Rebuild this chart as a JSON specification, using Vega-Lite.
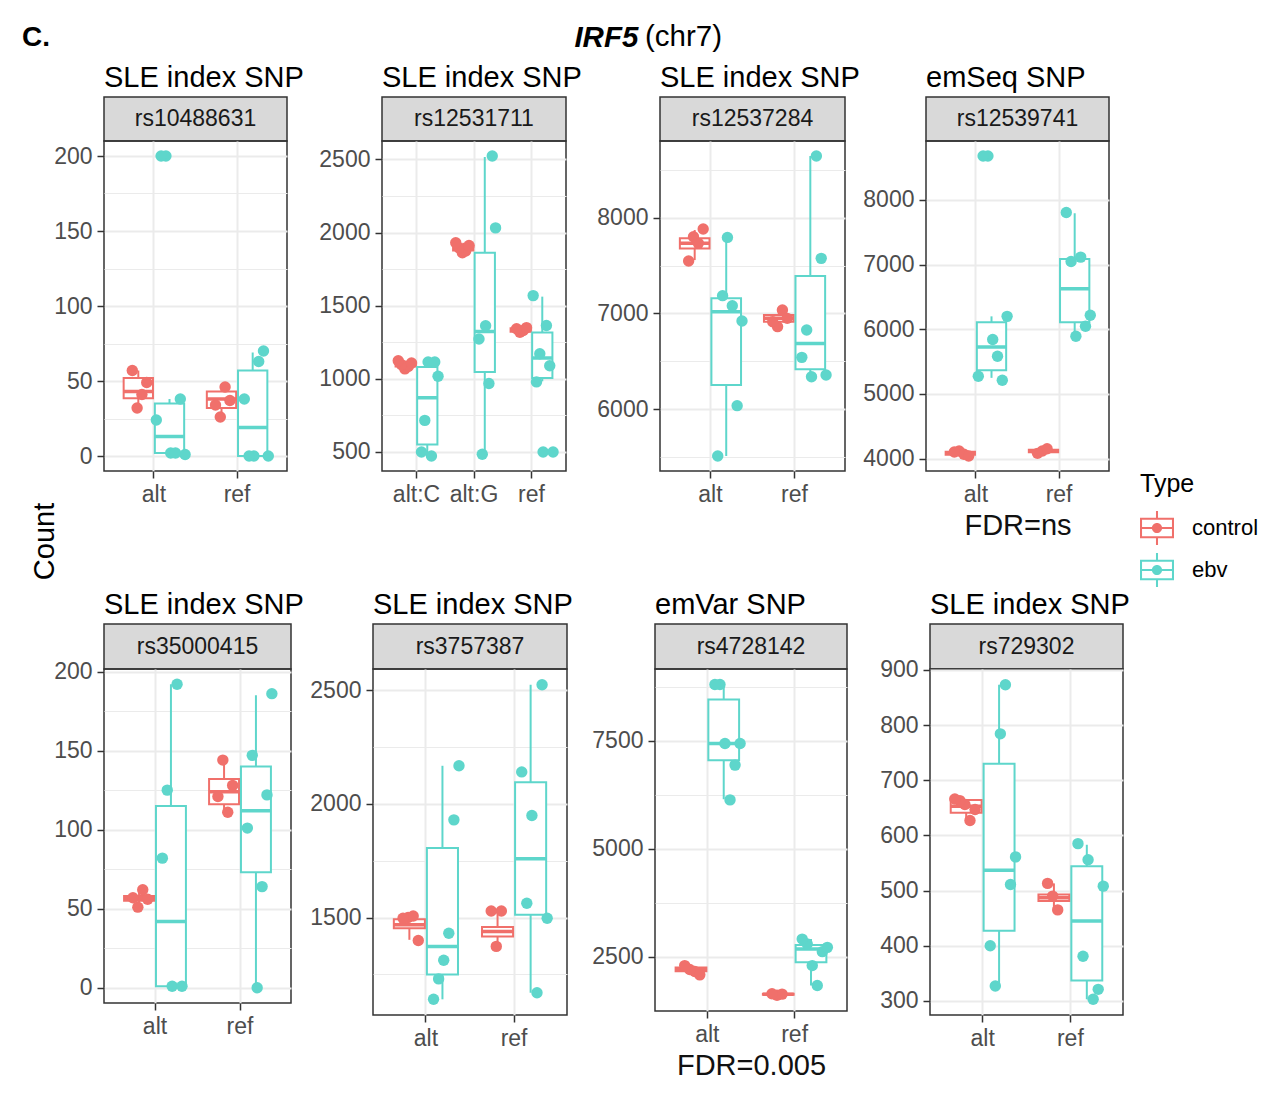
{
"$schema": "https://vega.github.io/schema/vega-lite/v6.json",
"padding": {"left": 22, "top": 22, "right": 5, "bottom": 5},
"background": "white",
"datasets": {
"panels": [{"snp":"rs10488631"},{"snp":"rs12531711"},{"snp":"rs12537284"},{"snp":"rs12539741"},{"snp":"rs35000415"},{"snp":"rs3757387"},{"snp":"rs4728142"},{"snp":"rs729302"}],
"box": [
{"snp":"rs10488631","allele":"alt","Type":"control","lo":33,"q1":38.5,"med":43,"q3":52,"hi":57},
{"snp":"rs10488631","allele":"alt","Type":"ebv","lo":1,"q1":2,"med":13,"q3":35,"hi":38},
{"snp":"rs10488631","allele":"ref","Type":"control","lo":26,"q1":32,"med":38,"q3":43,"hi":47},
{"snp":"rs10488631","allele":"ref","Type":"ebv","lo":0,"q1":0,"med":19,"q3":57,"hi":69},
{"snp":"rs12531711","allele":"alt:C","Type":"control","lo":1068,"q1":1085,"med":1100,"q3":1112,"hi":1124},
{"snp":"rs12531711","allele":"alt:C","Type":"ebv","lo":473,"q1":552,"med":870,"q3":1081,"hi":1110},
{"snp":"rs12531711","allele":"alt:G","Type":"control","lo":1862,"q1":1878,"med":1895,"q3":1912,"hi":1930},
{"snp":"rs12531711","allele":"alt:G","Type":"ebv","lo":484,"q1":1047,"med":1324,"q3":1862,"hi":2516},
{"snp":"rs12531711","allele":"ref","Type":"control","lo":1310,"q1":1322,"med":1336,"q3":1346,"hi":1352},
{"snp":"rs12531711","allele":"ref","Type":"ebv","lo":983,"q1":1006,"med":1142,"q3":1317,"hi":1562},
{"snp":"rs12537284","allele":"alt","Type":"control","lo":7557,"q1":7679,"med":7732,"q3":7784,"hi":7871},
{"snp":"rs12537284","allele":"alt","Type":"ebv","lo":5509,"q1":6251,"med":7017,"q3":7157,"hi":7794},
{"snp":"rs12537284","allele":"ref","Type":"control","lo":6861,"q1":6913,"med":6948,"q3":6983,"hi":7035},
{"snp":"rs12537284","allele":"ref","Type":"ebv","lo":6338,"q1":6415,"med":6686,"q3":7390,"hi":8645},
{"snp":"rs12539741","allele":"alt","Type":"control","lo":4041,"q1":4060,"med":4085,"q3":4105,"hi":4118},
{"snp":"rs12539741","allele":"alt","Type":"ebv","lo":5249,"q1":5368,"med":5728,"q3":6108,"hi":6200},
{"snp":"rs12539741","allele":"ref","Type":"control","lo":4082,"q1":4100,"med":4118,"q3":4136,"hi":4154},
{"snp":"rs12539741","allele":"ref","Type":"ebv","lo":5892,"q1":6108,"med":6627,"q3":7085,"hi":7794},
{"snp":"rs35000415","allele":"alt","Type":"control","lo":51,"q1":55,"med":56.5,"q3":58,"hi":62},
{"snp":"rs35000415","allele":"alt","Type":"ebv","lo":1,"q1":1,"med":42,"q3":115,"hi":192},
{"snp":"rs35000415","allele":"ref","Type":"control","lo":110,"q1":116,"med":124,"q3":132,"hi":144},
{"snp":"rs35000415","allele":"ref","Type":"ebv","lo":0,"q1":73,"med":112,"q3":140,"hi":185},
{"snp":"rs3757387","allele":"alt","Type":"control","lo":1402,"q1":1453,"med":1468,"q3":1493,"hi":1507},
{"snp":"rs3757387","allele":"alt","Type":"ebv","lo":1140,"q1":1249,"med":1373,"q3":1806,"hi":2168},
{"snp":"rs3757387","allele":"ref","Type":"control","lo":1380,"q1":1417,"med":1439,"q3":1458,"hi":1529},
{"snp":"rs3757387","allele":"ref","Type":"ebv","lo":1169,"q1":1512,"med":1759,"q3":2095,"hi":2525},
{"snp":"rs4728142","allele":"alt","Type":"control","lo":2086,"q1":2170,"med":2215,"q3":2255,"hi":2301},
{"snp":"rs4728142","allele":"alt","Type":"ebv","lo":6150,"q1":7055,"med":7439,"q3":8459,"hi":8804},
{"snp":"rs4728142","allele":"ref","Type":"control","lo":1610,"q1":1625,"med":1640,"q3":1648,"hi":1655},
{"snp":"rs4728142","allele":"ref","Type":"ebv","lo":1840,"q1":2377,"med":2684,"q3":2776,"hi":2914},
{"snp":"rs729302","allele":"alt","Type":"control","lo":627,"q1":641,"med":653,"q3":664,"hi":666},
{"snp":"rs729302","allele":"alt","Type":"ebv","lo":327,"q1":427,"med":537,"q3":730,"hi":873},
{"snp":"rs729302","allele":"ref","Type":"control","lo":465,"q1":481,"med":487,"q3":493,"hi":513},
{"snp":"rs729302","allele":"ref","Type":"ebv","lo":303,"q1":337,"med":445,"q3":544,"hi":583}
],
"pts": [
{"snp":"rs10488631","allele":"alt","Type":"control","rep":"c1","Count":32},
{"snp":"rs10488631","allele":"alt","Type":"control","rep":"c2","Count":41},
{"snp":"rs10488631","allele":"alt","Type":"control","rep":"c3","Count":57},
{"snp":"rs10488631","allele":"alt","Type":"control","rep":"c4","Count":49},
{"snp":"rs10488631","allele":"alt","Type":"ebv","rep":"e1","Count":2},
{"snp":"rs10488631","allele":"alt","Type":"ebv","rep":"e2","Count":2},
{"snp":"rs10488631","allele":"alt","Type":"ebv","rep":"e3","Count":200},
{"snp":"rs10488631","allele":"alt","Type":"ebv","rep":"e4","Count":38},
{"snp":"rs10488631","allele":"alt","Type":"ebv","rep":"e5","Count":200},
{"snp":"rs10488631","allele":"alt","Type":"ebv","rep":"e6","Count":1},
{"snp":"rs10488631","allele":"alt","Type":"ebv","rep":"e7","Count":24},
{"snp":"rs10488631","allele":"ref","Type":"control","rep":"c1","Count":26},
{"snp":"rs10488631","allele":"ref","Type":"control","rep":"c2","Count":46},
{"snp":"rs10488631","allele":"ref","Type":"control","rep":"c3","Count":34},
{"snp":"rs10488631","allele":"ref","Type":"control","rep":"c4","Count":37},
{"snp":"rs10488631","allele":"ref","Type":"ebv","rep":"e1","Count":0},
{"snp":"rs10488631","allele":"ref","Type":"ebv","rep":"e2","Count":63},
{"snp":"rs10488631","allele":"ref","Type":"ebv","rep":"e3","Count":0},
{"snp":"rs10488631","allele":"ref","Type":"ebv","rep":"e4","Count":70},
{"snp":"rs10488631","allele":"ref","Type":"ebv","rep":"e5","Count":38},
{"snp":"rs10488631","allele":"ref","Type":"ebv","rep":"e6","Count":0},
{"snp":"rs12531711","allele":"alt:C","Type":"control","rep":"c1","Count":1068},
{"snp":"rs12531711","allele":"alt:C","Type":"control","rep":"c2","Count":1085},
{"snp":"rs12531711","allele":"alt:C","Type":"control","rep":"c3","Count":1097},
{"snp":"rs12531711","allele":"alt:C","Type":"control","rep":"c4","Count":1108},
{"snp":"rs12531711","allele":"alt:C","Type":"control","rep":"c5","Count":1124},
{"snp":"rs12531711","allele":"alt:C","Type":"ebv","rep":"e1","Count":1115},
{"snp":"rs12531711","allele":"alt:C","Type":"ebv","rep":"e2","Count":473},
{"snp":"rs12531711","allele":"alt:C","Type":"ebv","rep":"e3","Count":716},
{"snp":"rs12531711","allele":"alt:C","Type":"ebv","rep":"e4","Count":1115},
{"snp":"rs12531711","allele":"alt:C","Type":"ebv","rep":"e5","Count":500},
{"snp":"rs12531711","allele":"alt:C","Type":"ebv","rep":"e6","Count":1018},
{"snp":"rs12531711","allele":"alt:G","Type":"control","rep":"c1","Count":1862},
{"snp":"rs12531711","allele":"alt:G","Type":"control","rep":"c2","Count":1875},
{"snp":"rs12531711","allele":"alt:G","Type":"control","rep":"c3","Count":1895},
{"snp":"rs12531711","allele":"alt:G","Type":"control","rep":"c4","Count":1912},
{"snp":"rs12531711","allele":"alt:G","Type":"control","rep":"c5","Count":1930},
{"snp":"rs12531711","allele":"alt:G","Type":"ebv","rep":"e1","Count":1363},
{"snp":"rs12531711","allele":"alt:G","Type":"ebv","rep":"e2","Count":968},
{"snp":"rs12531711","allele":"alt:G","Type":"ebv","rep":"e3","Count":484},
{"snp":"rs12531711","allele":"alt:G","Type":"ebv","rep":"e4","Count":2523},
{"snp":"rs12531711","allele":"alt:G","Type":"ebv","rep":"e5","Count":1272},
{"snp":"rs12531711","allele":"alt:G","Type":"ebv","rep":"e6","Count":2032},
{"snp":"rs12531711","allele":"ref","Type":"control","rep":"c1","Count":1318},
{"snp":"rs12531711","allele":"ref","Type":"control","rep":"c2","Count":1330},
{"snp":"rs12531711","allele":"ref","Type":"control","rep":"c3","Count":1342},
{"snp":"rs12531711","allele":"ref","Type":"control","rep":"c4","Count":1350},
{"snp":"rs12531711","allele":"ref","Type":"ebv","rep":"e1","Count":500},
{"snp":"rs12531711","allele":"ref","Type":"ebv","rep":"e2","Count":1365},
{"snp":"rs12531711","allele":"ref","Type":"ebv","rep":"e3","Count":1172},
{"snp":"rs12531711","allele":"ref","Type":"ebv","rep":"e4","Count":1090},
{"snp":"rs12531711","allele":"ref","Type":"ebv","rep":"e5","Count":979},
{"snp":"rs12531711","allele":"ref","Type":"ebv","rep":"e6","Count":500},
{"snp":"rs12531711","allele":"ref","Type":"ebv","rep":"e7","Count":1569},
{"snp":"rs12537284","allele":"alt","Type":"control","rep":"c1","Count":7801},
{"snp":"rs12537284","allele":"alt","Type":"control","rep":"c2","Count":7732},
{"snp":"rs12537284","allele":"alt","Type":"control","rep":"c3","Count":7547},
{"snp":"rs12537284","allele":"alt","Type":"control","rep":"c4","Count":7882},
{"snp":"rs12537284","allele":"alt","Type":"ebv","rep":"e1","Count":7794},
{"snp":"rs12537284","allele":"alt","Type":"ebv","rep":"e2","Count":7080},
{"snp":"rs12537284","allele":"alt","Type":"ebv","rep":"e3","Count":7185},
{"snp":"rs12537284","allele":"alt","Type":"ebv","rep":"e4","Count":6035},
{"snp":"rs12537284","allele":"alt","Type":"ebv","rep":"e5","Count":5509},
{"snp":"rs12537284","allele":"alt","Type":"ebv","rep":"e6","Count":6920},
{"snp":"rs12537284","allele":"ref","Type":"control","rep":"c1","Count":6861},
{"snp":"rs12537284","allele":"ref","Type":"control","rep":"c2","Count":7035},
{"snp":"rs12537284","allele":"ref","Type":"control","rep":"c3","Count":6913},
{"snp":"rs12537284","allele":"ref","Type":"control","rep":"c4","Count":6948},
{"snp":"rs12537284","allele":"ref","Type":"ebv","rep":"e1","Count":6338},
{"snp":"rs12537284","allele":"ref","Type":"ebv","rep":"e2","Count":8645},
{"snp":"rs12537284","allele":"ref","Type":"ebv","rep":"e3","Count":6826},
{"snp":"rs12537284","allele":"ref","Type":"ebv","rep":"e4","Count":7575},
{"snp":"rs12537284","allele":"ref","Type":"ebv","rep":"e5","Count":6540},
{"snp":"rs12537284","allele":"ref","Type":"ebv","rep":"e6","Count":6355},
{"snp":"rs12539741","allele":"alt","Type":"control","rep":"c1","Count":4118},
{"snp":"rs12539741","allele":"alt","Type":"control","rep":"c2","Count":4067},
{"snp":"rs12539741","allele":"alt","Type":"control","rep":"c3","Count":4103},
{"snp":"rs12539741","allele":"alt","Type":"control","rep":"c4","Count":4041},
{"snp":"rs12539741","allele":"alt","Type":"ebv","rep":"e1","Count":5841},
{"snp":"rs12539741","allele":"alt","Type":"ebv","rep":"e2","Count":5584},
{"snp":"rs12539741","allele":"alt","Type":"ebv","rep":"e3","Count":8679},
{"snp":"rs12539741","allele":"alt","Type":"ebv","rep":"e4","Count":5213},
{"snp":"rs12539741","allele":"alt","Type":"ebv","rep":"e5","Count":8679},
{"snp":"rs12539741","allele":"alt","Type":"ebv","rep":"e6","Count":6200},
{"snp":"rs12539741","allele":"alt","Type":"ebv","rep":"e7","Count":5275},
{"snp":"rs12539741","allele":"ref","Type":"control","rep":"c1","Count":4118},
{"snp":"rs12539741","allele":"ref","Type":"control","rep":"c2","Count":4154},
{"snp":"rs12539741","allele":"ref","Type":"control","rep":"c3","Count":4082},
{"snp":"rs12539741","allele":"ref","Type":"ebv","rep":"e1","Count":5892},
{"snp":"rs12539741","allele":"ref","Type":"ebv","rep":"e2","Count":7116},
{"snp":"rs12539741","allele":"ref","Type":"ebv","rep":"e3","Count":7049},
{"snp":"rs12539741","allele":"ref","Type":"ebv","rep":"e4","Count":6046},
{"snp":"rs12539741","allele":"ref","Type":"ebv","rep":"e5","Count":7805},
{"snp":"rs12539741","allele":"ref","Type":"ebv","rep":"e6","Count":6216},
{"snp":"rs35000415","allele":"alt","Type":"control","rep":"c1","Count":51},
{"snp":"rs35000415","allele":"alt","Type":"control","rep":"c2","Count":62},
{"snp":"rs35000415","allele":"alt","Type":"control","rep":"c3","Count":57},
{"snp":"rs35000415","allele":"alt","Type":"control","rep":"c4","Count":56},
{"snp":"rs35000415","allele":"alt","Type":"ebv","rep":"e1","Count":1},
{"snp":"rs35000415","allele":"alt","Type":"ebv","rep":"e2","Count":192},
{"snp":"rs35000415","allele":"alt","Type":"ebv","rep":"e3","Count":125},
{"snp":"rs35000415","allele":"alt","Type":"ebv","rep":"e4","Count":1},
{"snp":"rs35000415","allele":"alt","Type":"ebv","rep":"e5","Count":82},
{"snp":"rs35000415","allele":"ref","Type":"control","rep":"c1","Count":144},
{"snp":"rs35000415","allele":"ref","Type":"control","rep":"c2","Count":111},
{"snp":"rs35000415","allele":"ref","Type":"control","rep":"c3","Count":121},
{"snp":"rs35000415","allele":"ref","Type":"control","rep":"c4","Count":128},
{"snp":"rs35000415","allele":"ref","Type":"ebv","rep":"e1","Count":0},
{"snp":"rs35000415","allele":"ref","Type":"ebv","rep":"e2","Count":64},
{"snp":"rs35000415","allele":"ref","Type":"ebv","rep":"e3","Count":147},
{"snp":"rs35000415","allele":"ref","Type":"ebv","rep":"e4","Count":122},
{"snp":"rs35000415","allele":"ref","Type":"ebv","rep":"e5","Count":101},
{"snp":"rs35000415","allele":"ref","Type":"ebv","rep":"e6","Count":186},
{"snp":"rs3757387","allele":"alt","Type":"control","rep":"c1","Count":1500},
{"snp":"rs3757387","allele":"alt","Type":"control","rep":"c2","Count":1507},
{"snp":"rs3757387","allele":"alt","Type":"control","rep":"c3","Count":1497},
{"snp":"rs3757387","allele":"alt","Type":"control","rep":"c4","Count":1399},
{"snp":"rs3757387","allele":"alt","Type":"ebv","rep":"e1","Count":1312},
{"snp":"rs3757387","allele":"alt","Type":"ebv","rep":"e2","Count":1431},
{"snp":"rs3757387","allele":"alt","Type":"ebv","rep":"e3","Count":1230},
{"snp":"rs3757387","allele":"alt","Type":"ebv","rep":"e4","Count":1930},
{"snp":"rs3757387","allele":"alt","Type":"ebv","rep":"e5","Count":1140},
{"snp":"rs3757387","allele":"alt","Type":"ebv","rep":"e6","Count":2168},
{"snp":"rs3757387","allele":"ref","Type":"control","rep":"c1","Count":1373},
{"snp":"rs3757387","allele":"ref","Type":"control","rep":"c2","Count":1529},
{"snp":"rs3757387","allele":"ref","Type":"control","rep":"c3","Count":1529},
{"snp":"rs3757387","allele":"ref","Type":"ebv","rep":"e1","Count":1949},
{"snp":"rs3757387","allele":"ref","Type":"ebv","rep":"e2","Count":1169},
{"snp":"rs3757387","allele":"ref","Type":"ebv","rep":"e3","Count":1563},
{"snp":"rs3757387","allele":"ref","Type":"ebv","rep":"e4","Count":2525},
{"snp":"rs3757387","allele":"ref","Type":"ebv","rep":"e5","Count":2141},
{"snp":"rs3757387","allele":"ref","Type":"ebv","rep":"e6","Count":1497},
{"snp":"rs4728142","allele":"alt","Type":"control","rep":"c1","Count":2209},
{"snp":"rs4728142","allele":"alt","Type":"control","rep":"c2","Count":2163},
{"snp":"rs4728142","allele":"alt","Type":"control","rep":"c3","Count":2301},
{"snp":"rs4728142","allele":"alt","Type":"control","rep":"c4","Count":2086},
{"snp":"rs4728142","allele":"alt","Type":"ebv","rep":"e1","Count":7439},
{"snp":"rs4728142","allele":"alt","Type":"ebv","rep":"e2","Count":6135},
{"snp":"rs4728142","allele":"alt","Type":"ebv","rep":"e3","Count":8804},
{"snp":"rs4728142","allele":"alt","Type":"ebv","rep":"e4","Count":6940},
{"snp":"rs4728142","allele":"alt","Type":"ebv","rep":"e5","Count":8804},
{"snp":"rs4728142","allele":"alt","Type":"ebv","rep":"e6","Count":7439},
{"snp":"rs4728142","allele":"ref","Type":"control","rep":"c1","Count":1615},
{"snp":"rs4728142","allele":"ref","Type":"control","rep":"c2","Count":1640},
{"snp":"rs4728142","allele":"ref","Type":"control","rep":"c3","Count":1650},
{"snp":"rs4728142","allele":"ref","Type":"ebv","rep":"e1","Count":2301},
{"snp":"rs4728142","allele":"ref","Type":"ebv","rep":"e2","Count":1840},
{"snp":"rs4728142","allele":"ref","Type":"ebv","rep":"e3","Count":2799},
{"snp":"rs4728142","allele":"ref","Type":"ebv","rep":"e4","Count":2623},
{"snp":"rs4728142","allele":"ref","Type":"ebv","rep":"e5","Count":2914},
{"snp":"rs4728142","allele":"ref","Type":"ebv","rep":"e6","Count":2723},
{"snp":"rs729302","allele":"alt","Type":"control","rep":"c1","Count":656},
{"snp":"rs729302","allele":"alt","Type":"control","rep":"c2","Count":627},
{"snp":"rs729302","allele":"alt","Type":"control","rep":"c3","Count":663},
{"snp":"rs729302","allele":"alt","Type":"control","rep":"c4","Count":647},
{"snp":"rs729302","allele":"alt","Type":"control","rep":"c5","Count":666},
{"snp":"rs729302","allele":"alt","Type":"ebv","rep":"e1","Count":784},
{"snp":"rs729302","allele":"alt","Type":"ebv","rep":"e2","Count":873},
{"snp":"rs729302","allele":"alt","Type":"ebv","rep":"e3","Count":327},
{"snp":"rs729302","allele":"alt","Type":"ebv","rep":"e4","Count":511},
{"snp":"rs729302","allele":"alt","Type":"ebv","rep":"e5","Count":400},
{"snp":"rs729302","allele":"alt","Type":"ebv","rep":"e6","Count":561},
{"snp":"rs729302","allele":"ref","Type":"control","rep":"c1","Count":490},
{"snp":"rs729302","allele":"ref","Type":"control","rep":"c2","Count":465},
{"snp":"rs729302","allele":"ref","Type":"control","rep":"c3","Count":513},
{"snp":"rs729302","allele":"ref","Type":"ebv","rep":"e1","Count":556},
{"snp":"rs729302","allele":"ref","Type":"ebv","rep":"e2","Count":303},
{"snp":"rs729302","allele":"ref","Type":"ebv","rep":"e3","Count":381},
{"snp":"rs729302","allele":"ref","Type":"ebv","rep":"e4","Count":321},
{"snp":"rs729302","allele":"ref","Type":"ebv","rep":"e5","Count":585},
{"snp":"rs729302","allele":"ref","Type":"ebv","rep":"e6","Count":508}
]
},
"title": {"text": "C.", "anchor": "start", "frame": "group", "fontWeight": "bold", "fontSize": 28, "dx": -82, "dy": 30, "offset": 0},
"vconcat": [{
"title": {"text": "(chr7)", "anchor": "start", "frame": "group", "dx": 541, "dy": 30, "fontSize": 29.5, "offset": 0},
"vconcat": [{
"title": {"text": "IRF5", "fontStyle": "italic", "fontWeight": "bold", "fontSize": 29.5, "dx": 26, "offset": 11, "anchor": "middle", "frame": "bounds"},
"vconcat": [{
"title": {"text": "Count", "orient": "left", "fontSize": 29, "offset": -7, "dx": 31, "anchor": "middle", "frame": "bounds"},
"spacing": 50,
"vconcat": [
{"spacing": 2, "hconcat": [
 {"spacing": 14, "hconcat": [
  {"title": {"text": "SLE index SNP"}, "bounds": "flush", "spacing": 0, "vconcat": [
   {"width": 183, "height": 44, "data": {"name": "panels"}, "transform": [{"filter": "datum.snp === 'rs10488631'"}], "mark": {"type": "text", "fontSize": 23, "color": "#1a1a1a"}, "encoding": {"text": {"field": "snp"}}, "view": {"fill": "#d9d9d9", "stroke": "#333333", "strokeWidth": 1.5}},
   {"width": 183, "height": 330, "resolve": {"scale": {"xOffset": "independent"}}, "layer": [
    {"data": {"name": "box"}, "transform": [{"filter": "datum.snp === 'rs10488631'"}],
     "encoding": {"x": {"field": "allele", "type": "nominal", "title": null, "scale": {"paddingInner": 0.25, "paddingOuter": 0.225}}, "xOffset": {"field": "Type", "type": "nominal", "scale": {"paddingInner": 0.06, "paddingOuter": 0.03}}, "color": {"field": "Type", "type": "nominal", "scale": {"domain": ["control","ebv"], "range": ["#F0706B","#5ED6CB"]}}},
     "layer": [
      {"mark": {"type": "rule", "strokeWidth": 2}, "encoding": {"y": {"field": "lo", "type": "quantitative", "title": null}, "y2": {"field": "hi"}}},
      {"mark": {"type": "bar", "filled": false, "fill": "white", "strokeWidth": 2}, "encoding": {"y": {"field": "q1", "type": "quantitative", "title": null}, "y2": {"field": "q3"}}},
      {"mark": {"type": "bar", "filled": false, "fill": "white", "strokeWidth": 3.5}, "encoding": {"y": {"field": "med", "type": "quantitative", "title": null}, "y2": {"field": "med"}}}
     ]},
    {"data": {"name": "pts"}, "transform": [{"filter": "datum.snp === 'rs10488631'"}], "mark": {"type": "circle", "size": 130, "opacity": 1},
     "encoding": {"x": {"field": "allele", "type": "nominal", "title": null, "scale": {"paddingInner": 0.25, "paddingOuter": 0.225}},
      "xOffset": {"field": "rep", "type": "nominal", "scale": {"domain": ["c7","c5","c3","c1","c2","c4","c6","e7","e5","e3","e1","e2","e4","e6"], "paddingInner": 0, "paddingOuter": 0}},
      "y": {"field": "Count", "type": "quantitative", "title": null, "scale": {"domain": [-10, 210], "nice": false, "zero": false}, "axis": {"values": [0,25,50,75,100,125,150,175,200], "format": "d", "labelExpr": "datum.value % 50 === 0 ? datum.label : ''", "gridWidth": {"condition": {"test": "datum.value % 50 === 0", "value": 2}, "value": 1}, "tickOpacity": {"condition": {"test": "datum.value % 50 === 0", "value": 1}, "value": 0}}},
      "color": {"field": "Type", "type": "nominal", "scale": {"domain": ["control","ebv"], "range": ["#F0706B","#5ED6CB"]}, "legend": {"title": "Type", "symbolType": "M-1,-0.6H1V0.6H-1Z M-0.88,-0.48V0.48H0.88V-0.48Z M-0.88,-0.06H0.88V0.06H-0.88Z M-0.06,-1H0.06V-0.6H-0.06Z M-0.06,0.6H0.06V1H-0.06Z M0.3,0A0.3,0.3,0,1,1,-0.3,0A0.3,0.3,0,1,1,0.3,0Z", "symbolSize": 1156, "symbolStrokeWidth": 0, "orient": "none", "legendX": 1036, "legendY": 375, "encode": {"symbols": {"update": {"fill": {"scale": "color", "field": "value"}, "strokeWidth": {"value": 0}, "opacity": {"value": 1}}}}}}}}
   ]}
  ]},
  {"title": {"text": "SLE index SNP"}, "bounds": "flush", "spacing": 0, "vconcat": [
   {"width": 184, "height": 44, "data": {"name": "panels"}, "transform": [{"filter": "datum.snp === 'rs12531711'"}], "mark": {"type": "text", "fontSize": 23, "color": "#1a1a1a"}, "encoding": {"text": {"field": "snp"}}, "view": {"fill": "#d9d9d9", "stroke": "#333333", "strokeWidth": 1.5}},
   {"width": 184, "height": 330, "resolve": {"scale": {"xOffset": "independent"}}, "layer": [
    {"data": {"name": "box"}, "transform": [{"filter": "datum.snp === 'rs12531711'"}],
     "encoding": {"x": {"field": "allele", "type": "nominal", "title": null, "scale": {"paddingInner": 0.25, "paddingOuter": 0.225}}, "xOffset": {"field": "Type", "type": "nominal", "scale": {"paddingInner": 0.06, "paddingOuter": 0.03}}, "color": {"field": "Type", "type": "nominal", "scale": {"domain": ["control","ebv"], "range": ["#F0706B","#5ED6CB"]}}},
     "layer": [
      {"mark": {"type": "rule", "strokeWidth": 2}, "encoding": {"y": {"field": "lo", "type": "quantitative", "title": null}, "y2": {"field": "hi"}}},
      {"mark": {"type": "bar", "filled": false, "fill": "white", "strokeWidth": 2}, "encoding": {"y": {"field": "q1", "type": "quantitative", "title": null}, "y2": {"field": "q3"}}},
      {"mark": {"type": "bar", "filled": false, "fill": "white", "strokeWidth": 3.5}, "encoding": {"y": {"field": "med", "type": "quantitative", "title": null}, "y2": {"field": "med"}}}
     ]},
    {"data": {"name": "pts"}, "transform": [{"filter": "datum.snp === 'rs12531711'"}], "mark": {"type": "circle", "size": 130, "opacity": 1},
     "encoding": {"x": {"field": "allele", "type": "nominal", "title": null, "scale": {"paddingInner": 0.25, "paddingOuter": 0.225}},
      "xOffset": {"field": "rep", "type": "nominal", "scale": {"domain": ["c7","c5","c3","c1","c2","c4","c6","e7","e5","e3","e1","e2","e4","e6"], "paddingInner": 0, "paddingOuter": 0}},
      "y": {"field": "Count", "type": "quantitative", "title": null, "scale": {"domain": [370, 2626], "nice": false, "zero": false}, "axis": {"values": [500,750,1000,1250,1500,1750,2000,2250,2500], "format": "d", "labelExpr": "datum.value % 500 === 0 ? datum.label : ''", "gridWidth": {"condition": {"test": "datum.value % 500 === 0", "value": 2}, "value": 1}, "tickOpacity": {"condition": {"test": "datum.value % 500 === 0", "value": 1}, "value": 0}}},
      "color": {"field": "Type", "type": "nominal", "scale": {"domain": ["control","ebv"], "range": ["#F0706B","#5ED6CB"]}}}}
   ]}
  ]},
  {"title": {"text": "SLE index SNP"}, "bounds": "flush", "spacing": 0, "vconcat": [
   {"width": 185, "height": 44, "data": {"name": "panels"}, "transform": [{"filter": "datum.snp === 'rs12537284'"}], "mark": {"type": "text", "fontSize": 23, "color": "#1a1a1a"}, "encoding": {"text": {"field": "snp"}}, "view": {"fill": "#d9d9d9", "stroke": "#333333", "strokeWidth": 1.5}},
   {"width": 185, "height": 330, "resolve": {"scale": {"xOffset": "independent"}}, "layer": [
    {"data": {"name": "box"}, "transform": [{"filter": "datum.snp === 'rs12537284'"}],
     "encoding": {"x": {"field": "allele", "type": "nominal", "title": null, "scale": {"paddingInner": 0.25, "paddingOuter": 0.225}}, "xOffset": {"field": "Type", "type": "nominal", "scale": {"paddingInner": 0.06, "paddingOuter": 0.03}}, "color": {"field": "Type", "type": "nominal", "scale": {"domain": ["control","ebv"], "range": ["#F0706B","#5ED6CB"]}}},
     "layer": [
      {"mark": {"type": "rule", "strokeWidth": 2}, "encoding": {"y": {"field": "lo", "type": "quantitative", "title": null}, "y2": {"field": "hi"}}},
      {"mark": {"type": "bar", "filled": false, "fill": "white", "strokeWidth": 2}, "encoding": {"y": {"field": "q1", "type": "quantitative", "title": null}, "y2": {"field": "q3"}}},
      {"mark": {"type": "bar", "filled": false, "fill": "white", "strokeWidth": 3.5}, "encoding": {"y": {"field": "med", "type": "quantitative", "title": null}, "y2": {"field": "med"}}}
     ]},
    {"data": {"name": "pts"}, "transform": [{"filter": "datum.snp === 'rs12537284'"}], "mark": {"type": "circle", "size": 130, "opacity": 1},
     "encoding": {"x": {"field": "allele", "type": "nominal", "title": null, "scale": {"paddingInner": 0.25, "paddingOuter": 0.225}},
      "xOffset": {"field": "rep", "type": "nominal", "scale": {"domain": ["c7","c5","c3","c1","c2","c4","c6","e7","e5","e3","e1","e2","e4","e6"], "paddingInner": 0, "paddingOuter": 0}},
      "y": {"field": "Count", "type": "quantitative", "title": null, "scale": {"domain": [5352, 8802], "nice": false, "zero": false}, "axis": {"values": [5500,6000,6500,7000,7500,8000,8500], "format": "d", "labelExpr": "datum.value % 1000 === 0 ? datum.label : ''", "gridWidth": {"condition": {"test": "datum.value % 1000 === 0", "value": 2}, "value": 1}, "tickOpacity": {"condition": {"test": "datum.value % 1000 === 0", "value": 1}, "value": 0}}},
      "color": {"field": "Type", "type": "nominal", "scale": {"domain": ["control","ebv"], "range": ["#F0706B","#5ED6CB"]}}}}
   ]}
  ]}
 ]},
 {"title": {"text": "emSeq SNP"}, "bounds": "flush", "spacing": 0, "vconcat": [
   {"width": 183, "height": 44, "data": {"name": "panels"}, "transform": [{"filter": "datum.snp === 'rs12539741'"}], "mark": {"type": "text", "fontSize": 23, "color": "#1a1a1a"}, "encoding": {"text": {"field": "snp"}}, "view": {"fill": "#d9d9d9", "stroke": "#333333", "strokeWidth": 1.5}},
   {"width": 183, "height": 330, "resolve": {"scale": {"xOffset": "independent"}}, "layer": [
    {"data": {"name": "box"}, "transform": [{"filter": "datum.snp === 'rs12539741'"}],
     "encoding": {"x": {"field": "allele", "type": "nominal", "title": "FDR=ns", "scale": {"paddingInner": 0.25, "paddingOuter": 0.225}}, "xOffset": {"field": "Type", "type": "nominal", "scale": {"paddingInner": 0.06, "paddingOuter": 0.03}}, "color": {"field": "Type", "type": "nominal", "scale": {"domain": ["control","ebv"], "range": ["#F0706B","#5ED6CB"]}}},
     "layer": [
      {"mark": {"type": "rule", "strokeWidth": 2}, "encoding": {"y": {"field": "lo", "type": "quantitative", "title": null}, "y2": {"field": "hi"}}},
      {"mark": {"type": "bar", "filled": false, "fill": "white", "strokeWidth": 2}, "encoding": {"y": {"field": "q1", "type": "quantitative", "title": null}, "y2": {"field": "q3"}}},
      {"mark": {"type": "bar", "filled": false, "fill": "white", "strokeWidth": 3.5}, "encoding": {"y": {"field": "med", "type": "quantitative", "title": null}, "y2": {"field": "med"}}}
     ]},
    {"data": {"name": "pts"}, "transform": [{"filter": "datum.snp === 'rs12539741'"}], "mark": {"type": "circle", "size": 130, "opacity": 1},
     "encoding": {"x": {"field": "allele", "type": "nominal", "title": "FDR=ns", "scale": {"paddingInner": 0.25, "paddingOuter": 0.225}},
      "xOffset": {"field": "rep", "type": "nominal", "scale": {"domain": ["c7","c5","c3","c1","c2","c4","c6","e7","e5","e3","e1","e2","e4","e6"], "paddingInner": 0, "paddingOuter": 0}},
      "y": {"field": "Count", "type": "quantitative", "title": null, "scale": {"domain": [3809, 8911], "nice": false, "zero": false}, "axis": {"values": [4000,4500,5000,5500,6000,6500,7000,7500,8000,8500], "format": "d", "labelExpr": "datum.value % 1000 === 0 ? datum.label : ''", "gridWidth": {"condition": {"test": "datum.value % 1000 === 0", "value": 2}, "value": 1}, "tickOpacity": {"condition": {"test": "datum.value % 1000 === 0", "value": 1}, "value": 0}}},
      "color": {"field": "Type", "type": "nominal", "scale": {"domain": ["control","ebv"], "range": ["#F0706B","#5ED6CB"]}}}}
   ]}
 ]}
]},
{"spacing": 18, "hconcat": [
 {"spacing": 5, "hconcat": [
  {"title": {"text": "SLE index SNP"}, "bounds": "flush", "spacing": 0, "vconcat": [
   {"width": 187, "height": 45, "data": {"name": "panels"}, "transform": [{"filter": "datum.snp === 'rs35000415'"}], "mark": {"type": "text", "fontSize": 23, "color": "#1a1a1a"}, "encoding": {"text": {"field": "snp"}}, "view": {"fill": "#d9d9d9", "stroke": "#333333", "strokeWidth": 1.5}},
   {"width": 187, "height": 334, "resolve": {"scale": {"xOffset": "independent"}}, "layer": [
    {"data": {"name": "box"}, "transform": [{"filter": "datum.snp === 'rs35000415'"}],
     "encoding": {"x": {"field": "allele", "type": "nominal", "title": null, "scale": {"paddingInner": 0.25, "paddingOuter": 0.225}}, "xOffset": {"field": "Type", "type": "nominal", "scale": {"paddingInner": 0.06, "paddingOuter": 0.03}}, "color": {"field": "Type", "type": "nominal", "scale": {"domain": ["control","ebv"], "range": ["#F0706B","#5ED6CB"]}}},
     "layer": [
      {"mark": {"type": "rule", "strokeWidth": 2}, "encoding": {"y": {"field": "lo", "type": "quantitative", "title": null}, "y2": {"field": "hi"}}},
      {"mark": {"type": "bar", "filled": false, "fill": "white", "strokeWidth": 2}, "encoding": {"y": {"field": "q1", "type": "quantitative", "title": null}, "y2": {"field": "q3"}}},
      {"mark": {"type": "bar", "filled": false, "fill": "white", "strokeWidth": 3.5}, "encoding": {"y": {"field": "med", "type": "quantitative", "title": null}, "y2": {"field": "med"}}}
     ]},
    {"data": {"name": "pts"}, "transform": [{"filter": "datum.snp === 'rs35000415'"}], "mark": {"type": "circle", "size": 130, "opacity": 1},
     "encoding": {"x": {"field": "allele", "type": "nominal", "title": null, "scale": {"paddingInner": 0.25, "paddingOuter": 0.225}},
      "xOffset": {"field": "rep", "type": "nominal", "scale": {"domain": ["c7","c5","c3","c1","c2","c4","c6","e7","e5","e3","e1","e2","e4","e6"], "paddingInner": 0, "paddingOuter": 0}},
      "y": {"field": "Count", "type": "quantitative", "title": null, "scale": {"domain": [-9.6, 201.6], "nice": false, "zero": false}, "axis": {"values": [0,25,50,75,100,125,150,175,200], "format": "d", "labelExpr": "datum.value % 50 === 0 ? datum.label : ''", "gridWidth": {"condition": {"test": "datum.value % 50 === 0", "value": 2}, "value": 1}, "tickOpacity": {"condition": {"test": "datum.value % 50 === 0", "value": 1}, "value": 0}}},
      "color": {"field": "Type", "type": "nominal", "scale": {"domain": ["control","ebv"], "range": ["#F0706B","#5ED6CB"]}}}}
   ]}
  ]},
  {"title": {"text": "SLE index SNP"}, "bounds": "flush", "spacing": 0, "vconcat": [
   {"width": 194, "height": 45, "data": {"name": "panels"}, "transform": [{"filter": "datum.snp === 'rs3757387'"}], "mark": {"type": "text", "fontSize": 23, "color": "#1a1a1a"}, "encoding": {"text": {"field": "snp"}}, "view": {"fill": "#d9d9d9", "stroke": "#333333", "strokeWidth": 1.5}},
   {"width": 194, "height": 346, "resolve": {"scale": {"xOffset": "independent"}}, "layer": [
    {"data": {"name": "box"}, "transform": [{"filter": "datum.snp === 'rs3757387'"}],
     "encoding": {"x": {"field": "allele", "type": "nominal", "title": null, "scale": {"paddingInner": 0.25, "paddingOuter": 0.225}}, "xOffset": {"field": "Type", "type": "nominal", "scale": {"paddingInner": 0.06, "paddingOuter": 0.03}}, "color": {"field": "Type", "type": "nominal", "scale": {"domain": ["control","ebv"], "range": ["#F0706B","#5ED6CB"]}}},
     "layer": [
      {"mark": {"type": "rule", "strokeWidth": 2}, "encoding": {"y": {"field": "lo", "type": "quantitative", "title": null}, "y2": {"field": "hi"}}},
      {"mark": {"type": "bar", "filled": false, "fill": "white", "strokeWidth": 2}, "encoding": {"y": {"field": "q1", "type": "quantitative", "title": null}, "y2": {"field": "q3"}}},
      {"mark": {"type": "bar", "filled": false, "fill": "white", "strokeWidth": 3.5}, "encoding": {"y": {"field": "med", "type": "quantitative", "title": null}, "y2": {"field": "med"}}}
     ]},
    {"data": {"name": "pts"}, "transform": [{"filter": "datum.snp === 'rs3757387'"}], "mark": {"type": "circle", "size": 130, "opacity": 1},
     "encoding": {"x": {"field": "allele", "type": "nominal", "title": null, "scale": {"paddingInner": 0.25, "paddingOuter": 0.225}},
      "xOffset": {"field": "rep", "type": "nominal", "scale": {"domain": ["c7","c5","c3","c1","c2","c4","c6","e7","e5","e3","e1","e2","e4","e6"], "paddingInner": 0, "paddingOuter": 0}},
      "y": {"field": "Count", "type": "quantitative", "title": null, "scale": {"domain": [1071, 2594], "nice": false, "zero": false}, "axis": {"values": [1250,1500,1750,2000,2250,2500], "format": "d", "labelExpr": "datum.value % 500 === 0 ? datum.label : ''", "gridWidth": {"condition": {"test": "datum.value % 500 === 0", "value": 2}, "value": 1}, "tickOpacity": {"condition": {"test": "datum.value % 500 === 0", "value": 1}, "value": 0}}},
      "color": {"field": "Type", "type": "nominal", "scale": {"domain": ["control","ebv"], "range": ["#F0706B","#5ED6CB"]}}}}
   ]}
  ]}
 ]},
 {"spacing": 30, "hconcat": [
  {"title": {"text": "emVar SNP"}, "bounds": "flush", "spacing": 0, "vconcat": [
   {"width": 192, "height": 45, "data": {"name": "panels"}, "transform": [{"filter": "datum.snp === 'rs4728142'"}], "mark": {"type": "text", "fontSize": 23, "color": "#1a1a1a"}, "encoding": {"text": {"field": "snp"}}, "view": {"fill": "#d9d9d9", "stroke": "#333333", "strokeWidth": 1.5}},
   {"width": 192, "height": 342, "resolve": {"scale": {"xOffset": "independent"}}, "layer": [
    {"data": {"name": "box"}, "transform": [{"filter": "datum.snp === 'rs4728142'"}],
     "encoding": {"x": {"field": "allele", "type": "nominal", "title": "FDR=0.005", "scale": {"paddingInner": 0.25, "paddingOuter": 0.225}}, "xOffset": {"field": "Type", "type": "nominal", "scale": {"paddingInner": 0.06, "paddingOuter": 0.03}}, "color": {"field": "Type", "type": "nominal", "scale": {"domain": ["control","ebv"], "range": ["#F0706B","#5ED6CB"]}}},
     "layer": [
      {"mark": {"type": "rule", "strokeWidth": 2}, "encoding": {"y": {"field": "lo", "type": "quantitative", "title": null}, "y2": {"field": "hi"}}},
      {"mark": {"type": "bar", "filled": false, "fill": "white", "strokeWidth": 2}, "encoding": {"y": {"field": "q1", "type": "quantitative", "title": null}, "y2": {"field": "q3"}}},
      {"mark": {"type": "bar", "filled": false, "fill": "white", "strokeWidth": 3.5}, "encoding": {"y": {"field": "med", "type": "quantitative", "title": null}, "y2": {"field": "med"}}}
     ]},
    {"data": {"name": "pts"}, "transform": [{"filter": "datum.snp === 'rs4728142'"}], "mark": {"type": "circle", "size": 130, "opacity": 1},
     "encoding": {"x": {"field": "allele", "type": "nominal", "title": "FDR=0.005", "scale": {"paddingInner": 0.25, "paddingOuter": 0.225}},
      "xOffset": {"field": "rep", "type": "nominal", "scale": {"domain": ["c7","c5","c3","c1","c2","c4","c6","e7","e5","e3","e1","e2","e4","e6"], "paddingInner": 0, "paddingOuter": 0}},
      "y": {"field": "Count", "type": "quantitative", "title": null, "scale": {"domain": [1250, 9164], "nice": false, "zero": false}, "axis": {"values": [2500,3750,5000,6250,7500,8750], "format": "d", "labelExpr": "datum.value % 2500 === 0 ? datum.label : ''", "gridWidth": {"condition": {"test": "datum.value % 2500 === 0", "value": 2}, "value": 1}, "tickOpacity": {"condition": {"test": "datum.value % 2500 === 0", "value": 1}, "value": 0}}},
      "color": {"field": "Type", "type": "nominal", "scale": {"domain": ["control","ebv"], "range": ["#F0706B","#5ED6CB"]}}}}
   ]}
  ]},
  {"title": {"text": "SLE index SNP"}, "bounds": "flush", "spacing": 0, "vconcat": [
   {"width": 193, "height": 45, "data": {"name": "panels"}, "transform": [{"filter": "datum.snp === 'rs729302'"}], "mark": {"type": "text", "fontSize": 23, "color": "#1a1a1a"}, "encoding": {"text": {"field": "snp"}}, "view": {"fill": "#d9d9d9", "stroke": "#333333", "strokeWidth": 1.5}},
   {"width": 193, "height": 346, "resolve": {"scale": {"xOffset": "independent"}}, "layer": [
    {"data": {"name": "box"}, "transform": [{"filter": "datum.snp === 'rs729302'"}],
     "encoding": {"x": {"field": "allele", "type": "nominal", "title": null, "scale": {"paddingInner": 0.25, "paddingOuter": 0.225}}, "xOffset": {"field": "Type", "type": "nominal", "scale": {"paddingInner": 0.06, "paddingOuter": 0.03}}, "color": {"field": "Type", "type": "nominal", "scale": {"domain": ["control","ebv"], "range": ["#F0706B","#5ED6CB"]}}},
     "layer": [
      {"mark": {"type": "rule", "strokeWidth": 2}, "encoding": {"y": {"field": "lo", "type": "quantitative", "title": null}, "y2": {"field": "hi"}}},
      {"mark": {"type": "bar", "filled": false, "fill": "white", "strokeWidth": 2}, "encoding": {"y": {"field": "q1", "type": "quantitative", "title": null}, "y2": {"field": "q3"}}},
      {"mark": {"type": "bar", "filled": false, "fill": "white", "strokeWidth": 3.5}, "encoding": {"y": {"field": "med", "type": "quantitative", "title": null}, "y2": {"field": "med"}}}
     ]},
    {"data": {"name": "pts"}, "transform": [{"filter": "datum.snp === 'rs729302'"}], "mark": {"type": "circle", "size": 130, "opacity": 1},
     "encoding": {"x": {"field": "allele", "type": "nominal", "title": null, "scale": {"paddingInner": 0.25, "paddingOuter": 0.225}},
      "xOffset": {"field": "rep", "type": "nominal", "scale": {"domain": ["c7","c5","c3","c1","c2","c4","c6","e7","e5","e3","e1","e2","e4","e6"], "paddingInner": 0, "paddingOuter": 0}},
      "y": {"field": "Count", "type": "quantitative", "title": null, "scale": {"domain": [274.5, 901.5], "nice": false, "zero": false}, "axis": {"values": [300,350,400,450,500,550,600,650,700,750,800,850,900], "format": "d", "labelExpr": "datum.value % 100 === 0 ? datum.label : ''", "gridWidth": {"condition": {"test": "datum.value % 100 === 0", "value": 2}, "value": 1}, "tickOpacity": {"condition": {"test": "datum.value % 100 === 0", "value": 1}, "value": 0}}},
      "color": {"field": "Type", "type": "nominal", "scale": {"domain": ["control","ebv"], "range": ["#F0706B","#5ED6CB"]}}}}
   ]}
  ]}
 ]}
]}
]
}]
}]
}],
"config": {
 "font": "Liberation Sans",
 "view": {"stroke": "#333333", "strokeWidth": 1.5},
 "axis": {"labelFontSize": 23, "labelColor": "#4d4d4d", "labelFont": "Liberation Sans", "tickColor": "#333333", "tickSize": 7, "tickWidth": 1.5, "domain": false, "grid": true, "gridColor": "#ebebeb", "labelPadding": 5, "titleFontWeight": "normal", "titleFontSize": 29, "titleColor": "#111111", "titlePadding": 5, "titleFont": "Liberation Sans"},
 "axisX": {"labelAngle": 0, "gridWidth": 2},
 "title": {"fontSize": 29, "fontWeight": "normal", "color": "#000000", "font": "Liberation Sans", "offset": 3, "frame": "group"},
 "legend": {"titleFontSize": 25, "titleFontWeight": "normal", "titleColor": "#000000", "titleFont": "Liberation Sans", "labelFontSize": 22, "labelColor": "#000000", "labelFont": "Liberation Sans", "rowPadding": 8, "titlePadding": 14, "labelOffset": 18, "padding": 0}
}
}
